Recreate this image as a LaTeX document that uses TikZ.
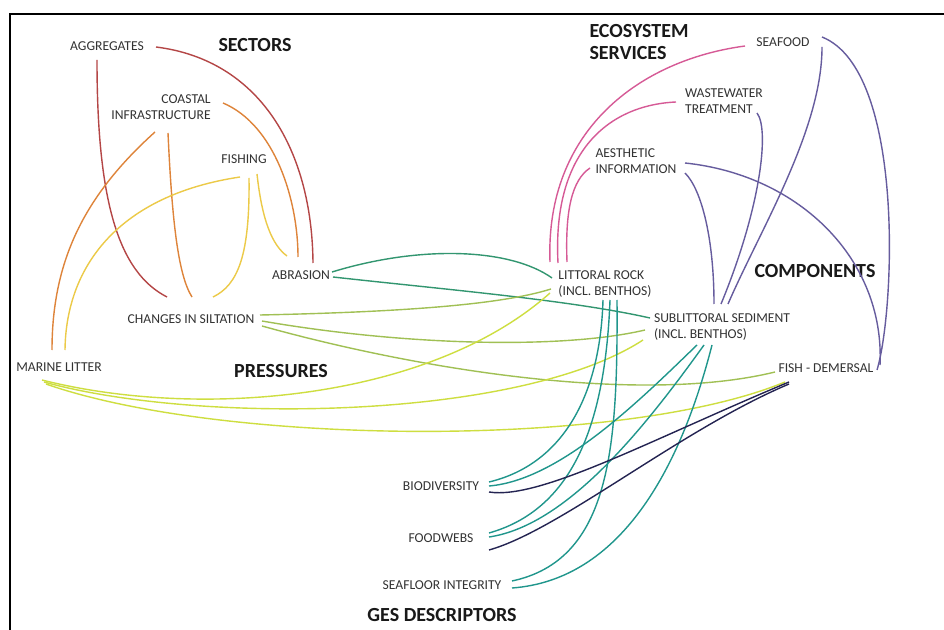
\documentclass[tikz,border=0pt]{standalone}
\usepackage{fontspec}
\setmainfont{Carlito}
\definecolor{kred}{RGB}{180,70,70}
\definecolor{korange}{RGB}{222,132,58}
\definecolor{kyellow}{RGB}{236,202,72}
\definecolor{kabr}{RGB}{50,150,112}
\definecolor{ksilt}{RGB}{160,192,84}
\definecolor{klitter}{RGB}{206,222,64}
\definecolor{kpink}{RGB}{214,90,150}
\definecolor{kpurple}{RGB}{102,92,158}
\definecolor{kteal}{RGB}{32,150,140}
\definecolor{knavy}{RGB}{36,36,82}
\begin{document}
\begin{tikzpicture}[x=0.75pt,y=-0.75pt,
  lbl/.style={inner sep=0pt,text=black!80,font=\fontsize{10.2}{12}\selectfont},
  hdr/.style={inner sep=0pt,text=black!90,font=\fontsize{15}{16.5}\selectfont\bfseries},
  con/.style={line width=1.05pt},
  cred/.style={con,draw=kred},
  corange/.style={con,draw=korange},
  cyellow/.style={con,draw=kyellow},
  cabr/.style={con,draw=kabr},
  csilt/.style={con,draw=ksilt},
  clitter/.style={con,draw=klitter},
  cpink/.style={con,draw=kpink},
  cpurple/.style={con,draw=kpurple},
  cteal/.style={con,draw=kteal},
  cnavy/.style={con,draw=knavy}]
\useasboundingbox (0,0) rectangle (944,630);
\fill[white] (0,0) rectangle (944,630);
\draw[line width=1.5pt] (10,630) -- (10,14) -- (944,14);

% nodes
\node[lbl] (agg) at (107,46) {AGGREGATES};
\node[hdr] (sectors) at (255,45) {SECTORS};
\node[lbl,align=right] (coastal) at (161,107) {COASTAL\\INFRASTRUCTURE};
\node[lbl] (fishing) at (244,159) {FISHING};
\node[lbl] (abrasion) at (301,275) {ABRASION};
\node[lbl] (silt) at (191,319) {CHANGES IN SILTATION};
\node[lbl] (litter) at (59,367) {MARINE LITTER};
\node[hdr] (pressures) at (281,371) {PRESSURES};
\node[hdr,align=left] (ecosys) at (639,42) {ECOSYSTEM\\SERVICES};
\node[lbl] (seafood) at (783,42) {SEAFOOD};
\node[lbl,align=left] (waste) at (724,101) {WASTEWATER\\TREATMENT};
\node[lbl,align=left] (aest) at (636,161) {AESTHETIC\\INFORMATION};
\node[hdr] (components) at (815,271) {COMPONENTS};
\node[lbl,align=left] (littoral) at (605,284) {LITTORAL ROCK\\(INCL. BENTHOS)};
\node[lbl,align=left] (subl) at (722,327) {SUBLITTORAL SEDIMENT\\(INCL. BENTHOS)};
\node[lbl] (fish) at (826,368) {FISH - DEMERSAL};
\node[lbl] (biodiv) at (441,486) {BIODIVERSITY};
\node[lbl] (foodwebs) at (441,538) {FOODWEBS};
\node[lbl] (seafloor) at (442,585) {SEAFLOOR INTEGRITY};
\node[hdr] (ges) at (442,615) {GES DESCRIPTORS};

% sectors -> pressures
\draw[cred] ([shift={(49,1)}]agg.center) .. controls (260,60) and (312,150) .. ([shift={(12,-12)}]abrasion.center);
\draw[cred] ([shift={(-10,14)}]agg.center) .. controls (97,200) and (118,272) .. ([shift={(-24,-22)}]silt.center);
\draw[corange] ([shift={(62,-4)}]coastal.center) .. controls (275,125) and (298,200) .. ([shift={(-3,-18)}]abrasion.center);
\draw[corange] ([shift={(7,26)}]coastal.center) .. controls (172,220) and (178,275) .. ([shift={(1,-22)}]silt.center);
\draw[corange] ([shift={(-6,25)}]coastal.center) .. controls (85,195) and (52,260) .. ([shift={(-7,-17)}]litter.center);
\draw[cyellow] ([shift={(-4,18)}]fishing.center) .. controls (120,195) and (66,265) .. ([shift={(6,-17)}]litter.center);
\draw[cyellow] ([shift={(5,19)}]fishing.center) .. controls (250,255) and (238,285) .. ([shift={(22,-22)}]silt.center);
\draw[cyellow] ([shift={(13,15)}]fishing.center) .. controls (262,220) and (272,245) .. ([shift={(-14,-19)}]abrasion.center);

% pressures -> components
\draw[cabr] ([shift={(31,-3)}]abrasion.center) .. controls (420,245) and (510,248) .. ([shift={(-53,-6)}]littoral.center);
\draw[cabr] ([shift={(32,2)}]abrasion.center) .. controls (450,290) and (570,300) .. ([shift={(-72,-9)}]subl.center);
\draw[csilt] ([shift={(69,-4)}]silt.center) .. controls (400,312) and (500,305) .. ([shift={(-54,5)}]littoral.center);
\draw[csilt] ([shift={(71,2)}]silt.center) .. controls (400,345) and (560,350) .. ([shift={(-77,3)}]subl.center);
\draw[csilt] ([shift={(71,7)}]silt.center) .. controls (420,370) and (640,405) .. ([shift={(-51,4)}]fish.center);
\draw[clitter] ([shift={(-17,13)}]litter.center) .. controls (200,420) and (430,400) .. ([shift={(-55,9)}]littoral.center);
\draw[clitter] ([shift={(-15,15)}]litter.center) .. controls (200,425) and (520,420) .. ([shift={(-79,13)}]subl.center);
\draw[clitter] ([shift={(-13,17)}]litter.center) .. controls (220,445) and (620,450) .. ([shift={(-41,14)}]fish.center);

% components -> ecosystem services
\draw[cpink] ([shift={(-55,-22)}]littoral.center) .. controls (545,130) and (640,60) .. ([shift={(-38,4)}]seafood.center);
\draw[cpink] ([shift={(-47,-21)}]littoral.center) .. controls (552,150) and (610,105) .. ([shift={(-48,1)}]waste.center);
\draw[cpink] ([shift={(-38,-22)}]littoral.center) .. controls (565,210) and (572,180) .. ([shift={(-46,7)}]aest.center);
\draw[cpurple] ([shift={(49,12)}]aest.center) .. controls (702,190) and (714,240) .. ([shift={(-8,-23)}]subl.center);
\draw[cpurple] ([shift={(33,12)}]waste.center) .. controls (770,130) and (760,210) .. ([shift={(-1,-23)}]subl.center);
\draw[cpurple] ([shift={(39,5)}]seafood.center) .. controls (822,130) and (760,230) .. ([shift={(6,-23)}]subl.center);
\draw[cpurple] ([shift={(39,-5)}]seafood.center) .. controls (905,70) and (895,310) .. ([shift={(51,2)}]fish.center);
\draw[cpurple] ([shift={(49,2)}]aest.center) .. controls (800,175) and (885,260) .. ([shift={(54,-3)}]fish.center);

% components -> GES descriptors
\draw[cteal] ([shift={(-2,16)}]littoral.center) .. controls (600,400) and (560,465) .. ([shift={(48,-4)}]biodiv.center);
\draw[cteal] ([shift={(5,16)}]littoral.center) .. controls (605,430) and (570,510) .. ([shift={(48,-5)}]foodwebs.center);
\draw[cteal] ([shift={(12,16)}]littoral.center) .. controls (618,450) and (610,560) .. ([shift={(70,-4)}]seafloor.center);
\draw[cteal] ([shift={(-25,18)}]subl.center) .. controls (640,400) and (560,480) .. ([shift={(48,0)}]biodiv.center);
\draw[cteal] ([shift={(-18,18)}]subl.center) .. controls (650,420) and (570,525) .. ([shift={(48,-1)}]foodwebs.center);
\draw[cteal] ([shift={(-10,18)}]subl.center) .. controls (680,470) and (620,580) .. ([shift={(70,3)}]seafloor.center);
\draw[cnavy] ([shift={(-37,14)}]fish.center) .. controls (650,440) and (540,500) .. ([shift={(48,6)}]biodiv.center);
\draw[cnavy] ([shift={(-37,16)}]fish.center) .. controls (680,430) and (560,530) .. ([shift={(48,12)}]foodwebs.center);
\end{tikzpicture}
\end{document}
